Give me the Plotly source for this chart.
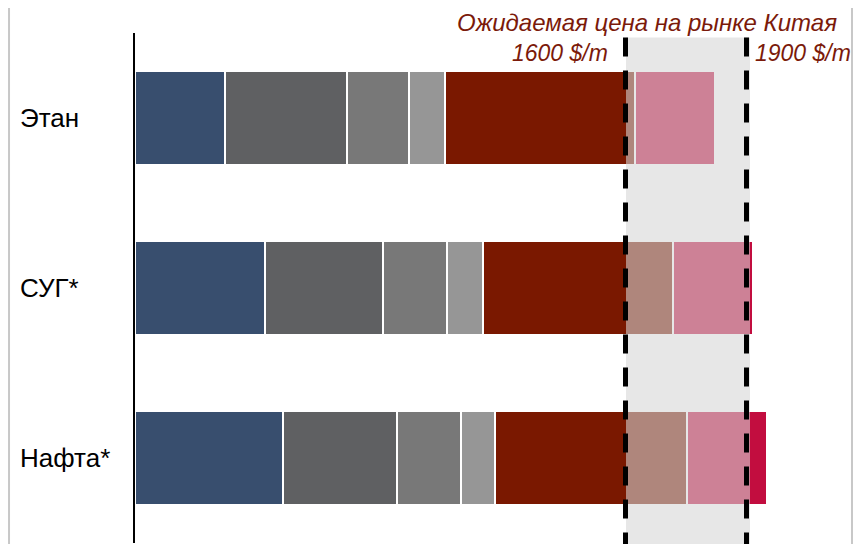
import plotly.graph_objects as go

# Categories (top to bottom)
categories = ["Этан", "СУГ*", "Нафта*"]

# Cost components, in relative units (no numeric axis in the original)
seg_blue = [90, 130, 148]
seg_darkgray = [122, 118, 114]
seg_gray = [62, 64, 64]
seg_lightgray = [36, 36, 34]
seg_red = [190, 190, 192]
seg_crimson = [80, 80, 80]

# Expected China market price band (same relative units)
price_low_pos = 490.5
price_high_pos = 611.5
band_start = 491
band_end = 615
price_low_label = "1600 $/m"
price_high_label = "1900 $/m"
band_title = "Ожидаемая цена на рынке Китая"

series = [
    (seg_blue, "#384E6E"),
    (seg_darkgray, "#5F6062"),
    (seg_gray, "#787878"),
    (seg_lightgray, "#969696"),
    (seg_red, "#7A1800"),
    (seg_crimson, "#C20D3F"),
]

fig = go.Figure()
for vals, col in series:
    fig.add_trace(go.Bar(
        y=categories, x=vals, orientation="h",
        marker=dict(color=col, line=dict(color="white", width=2)),
        showlegend=False, hoverinfo="skip",
    ))

FONT = "Liberation Sans, Arial, sans-serif"
TXT_RED = "#7B1A0A"

fig.update_layout(
    width=861, height=544,
    margin=dict(l=127, r=17, t=25, b=9),
    paper_bgcolor="white", plot_bgcolor="white",
    barmode="stack", bargap=0.45,
    font=dict(family=FONT),
    xaxis=dict(range=[0, 717], visible=False, fixedrange=True),
    yaxis=dict(range=[2.5, -0.5], showticklabels=False, ticks="",
               showgrid=False, zeroline=False,
               showline=True, linecolor="black", linewidth=2),
)

# Price band (drawn above bars, semi-transparent)
fig.add_shape(type="rect", xref="x", yref="paper",
              x0=band_start, x1=band_end, y0=-0.03, y1=0.991,
              fillcolor="rgba(214,214,214,0.58)", line=dict(width=0),
              layer="above")
for xv in (price_low_pos, price_high_pos):
    fig.add_shape(type="line", xref="x", yref="paper",
                  x0=xv, x1=xv, y0=0.991, y1=-0.03,
                  line=dict(color="black", width=5, dash="19px,14px"),
                  layer="above")

# Outer light border lines (left & right)
for xp in (-0.1757, 1.0):
    fig.add_shape(type="line", xref="paper", yref="paper",
                  x0=xp, x1=xp, y0=-0.03, y1=1.1,
                  line=dict(color="#C8C8C8", width=2))

# Category labels, left-aligned
for i, c in enumerate(categories):
    fig.add_annotation(xref="paper", yref="y", x=-0.1632, y=i,
                       text=c, showarrow=False, xanchor="left",
                       yanchor="middle",
                       font=dict(size=26, color="black", family=FONT))

fig.add_annotation(xref="paper", yref="paper", x=0.714, y=1.049,
                   text=band_title, showarrow=False, xanchor="center",
                   yanchor="top", borderpad=0,
                   font=dict(size=24, color=TXT_RED, family=FONT,
                             style="italic"))
fig.add_annotation(xref="x", yref="paper", x=475, y=0.96,
                   text=price_low_label, showarrow=False, xanchor="right",
                   yanchor="middle",
                   font=dict(size=23, color=TXT_RED, family=FONT,
                             style="italic"))
fig.add_annotation(xref="x", yref="paper", x=618, y=0.96,
                   text=price_high_label, showarrow=False, xanchor="left",
                   yanchor="middle",
                   font=dict(size=23, color=TXT_RED, family=FONT,
                             style="italic"))

fig.write_html("out.html")
